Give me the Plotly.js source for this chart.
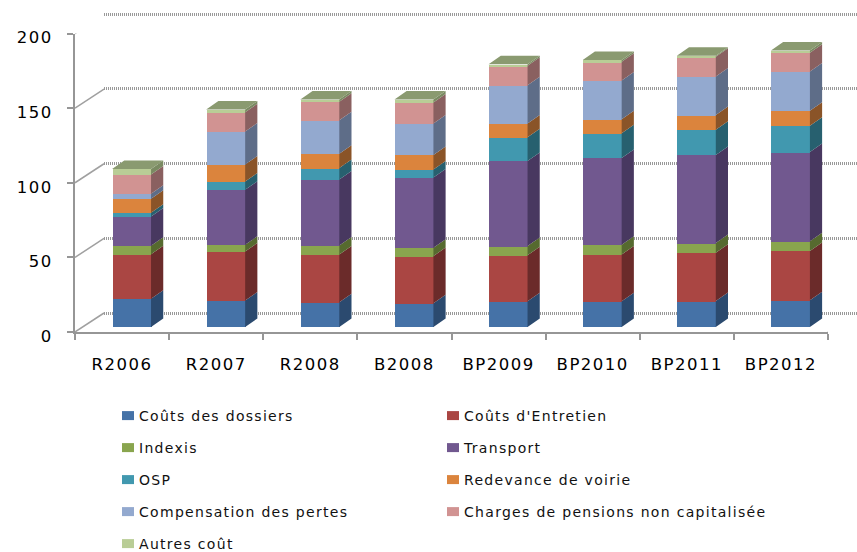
<!DOCTYPE html>
<html>
<head>
<meta charset="utf-8">
<script src="https://cdn.plot.ly/plotly-3.0.1.min.js"></script>
<style>
html,body{margin:0;padding:0;background:#fff;overflow:hidden}
#chart{width:857px;height:552px}
.xtick text,.ytick text{letter-spacing:1.5px}
.legendtext,.legend2text{letter-spacing:1.3px}
.legendpoints path{transform:translate(29px,0) scale(1,.75)}
</style>
</head>
<body>
<div id="chart"></div>
<script>
const categories = ['R2006','R2007','R2008','B2008','BP2009','BP2010','BP2011','BP2012'];
const seriesNames = ['Coûts des dossiers',"Coûts d'Entretien",'Indexis','Transport','OSP','Redevance de voirie','Compensation des pertes','Charges de pensions non capitalisée','Autres coût'];
const couts      = [19.0,17.8,16.5,15.9,17.2,17.2,17.4,18.0];
const entretien  = [29.7,32.8,32.1,31.6,30.8,31.4,32.4,33.0];
const indexis    = [5.8,4.5,6.0,5.6,6.2,6.5,6.4,6.5];
const transport  = [19.6,36.8,44.3,47.0,57.1,58.2,59.1,59.7];
const osp        = [2.4,5.6,7.6,5.4,15.8,16.5,16.9,17.7];
const redevance  = [9.4,11.4,9.6,9.8,9.2,9.4,9.8,10.0];
const compens    = [3.3,22.1,22.5,21.1,25.6,25.9,25.8,26.3];
const pensions   = [12.9,12.9,12.3,14.0,13.2,12.7,13.2,12.5];
const autres     = [3.8,1.8,1.6,2.0,0.9,1.1,0.7,1.5];
const allSeries = [couts,entretien,indexis,transport,osp,redevance,compens,pensions,autres];
const frontColors = ['#4572A7','#AA4643','#89A54E','#71588F','#4198AF','#DB843D','#93A9CF','#D19392','#B9CD96'];
const sideColors  = ['#2B4A6F','#6B2B2A','#566A2F','#483860','#27606F','#8A5428','#5E6D88','#8A6060','#7A8A62'];
const topColor = '#8A9A70';
const yTicks = [0,50,100,150,200];

const W = 857, H = 552;
const pxPerCat = 94.125, pxPerUnit = 1.4925;
const fx = p => p / W, fy = p => 1 - p / H;
const barW = 0.414, sideDx = 12.2 / pxPerCat, sideDy = 8.5 / pxPerUnit;
const wallDx = 29 / pxPerCat, wallDy = 19 / pxPerUnit;
const xs = categories.map((_, i) => i);

const traces = [];
traces.push({type:'scatter',mode:'none',x:[-0.5,7.5],y:[0,200],xaxis:'x2',yaxis:'y2',showlegend:false,hoverinfo:'skip'});

const dx = [], dy = [];
yTicks.forEach(v => { dx.push(-0.5, -0.5 + wallDx, null); dy.push(v, v + wallDy, null); });
dx.push(7.5, 7.5 + wallDx); dy.push(0, wallDy);
traces.push({type:'scatter',mode:'lines',x:dx,y:dy,xaxis:'x',yaxis:'y',cliponaxis:false,showlegend:false,hoverinfo:'skip',
  line:{color:'#A0A0A0',width:1.5}});

allSeries.forEach((vals, s) => {
  const col = s % 2 === 0 ? 'legend' : 'legend2';
  traces.push({type:'bar',name:seriesNames[s],x:xs,y:vals,width:barW,xaxis:'x3',yaxis:'y3',
    marker:{color:frontColors[s],line:{width:0}},legend:col,legendgroup:'g'+s,showlegend:true});
});

const cum = xs.map(() => 0);
allSeries.forEach((vals, s) => {
  const px = [], py = [];
  xs.forEach(i => {
    const a = cum[i], b = a + vals[i], r = i + barW / 2;
    px.push(r, r + sideDx, r + sideDx, r, r, null);
    py.push(a, a + sideDy, b + sideDy, b, a, null);
    cum[i] = b;
  });
  traces.push({type:'scatter',mode:'lines',x:px,y:py,fill:'toself',fillcolor:sideColors[s],line:{width:0,color:sideColors[s]},
    xaxis:'x3',yaxis:'y3',cliponaxis:false,showlegend:false,hoverinfo:'skip'});
});

const tx = [], ty = [];
xs.forEach(i => {
  const l = i - barW / 2, r = i + barW / 2, t = cum[i];
  tx.push(l, r, r + sideDx, l + sideDx, l, null);
  ty.push(t, t, t + sideDy, t + sideDy, t, null);
});
traces.push({type:'scatter',mode:'lines',x:tx,y:ty,fill:'toself',fillcolor:topColor,line:{width:0,color:topColor},
  xaxis:'x3',yaxis:'y3',cliponaxis:false,showlegend:false,hoverinfo:'skip'});

const tickFont = () => ({family:'DejaVu Sans, sans-serif',size:16.5,color:'#000'});
const legendFont = () => ({family:'DejaVu Sans, sans-serif',size:14,color:'#111'});
const legendBase = () => ({orientation:'v',traceorder:'grouped',tracegroupgap:10.8,font:legendFont(),xanchor:'left',yanchor:'top',
  bgcolor:'rgba(0,0,0,0)',borderwidth:0,itemclick:false,itemdoubleclick:false,maxheight:H});

const layout = {
  width:W,height:H,margin:{l:0,r:0,t:0,b:0,autoexpand:false},
  paper_bgcolor:'#fff',plot_bgcolor:'rgba(0,0,0,0)',
  barmode:'stack',bargap:0,showlegend:true,hovermode:false,
  xaxis:{domain:[fx(75),fx(828)],range:[-0.5,7.5],tickmode:'array',tickvals:xs,ticktext:categories,ticks:'',
    tickfont:tickFont(),ticklabelstandoff:16,showgrid:false,zeroline:false,showline:true,linecolor:'#969696',linewidth:2,anchor:'y',
    minor:{tick0:-0.5,dtick:1,ticks:'outside',ticklen:6,tickwidth:2,tickcolor:'#969696',showgrid:false}},
  yaxis:{domain:[fy(332),fy(33.5)],range:[0,200],tickmode:'array',tickvals:yTicks,ticks:'outside',ticklen:6,tickwidth:2,tickcolor:'#969696',
    tickfont:tickFont(),ticklabelstandoff:11,ticklabelshift:4,showgrid:false,zeroline:false,showline:true,linecolor:'#969696',linewidth:2,anchor:'x'},
  xaxis2:{domain:[fx(104),1],range:[-0.5,7.5],visible:false,anchor:'y2'},
  yaxis2:{domain:[fy(313.3+1.4925*2),fy(14-1.4925*2)],range:[-2,202],tickmode:'array',tickvals:yTicks,showticklabels:false,ticks:'',showline:false,zeroline:false,
    showgrid:true,gridcolor:'#999999',gridwidth:2.5,griddash:'1px,1px',anchor:'x2'},
  xaxis3:{domain:[fx(84.5),fx(837.5)],range:[-0.5,7.5],visible:false,anchor:'y3'},
  yaxis3:{domain:[fy(327),fy(28.5)],range:[0,200],visible:false,anchor:'x3'},
  legend:Object.assign(legendBase(),{x:fx(99),y:fy(400)}),
  legend2:Object.assign(legendBase(),{x:fx(424),y:fy(400)})
};
Plotly.newPlot('chart',traces,layout,{displayModeBar:false});
</script>
</body>
</html>
